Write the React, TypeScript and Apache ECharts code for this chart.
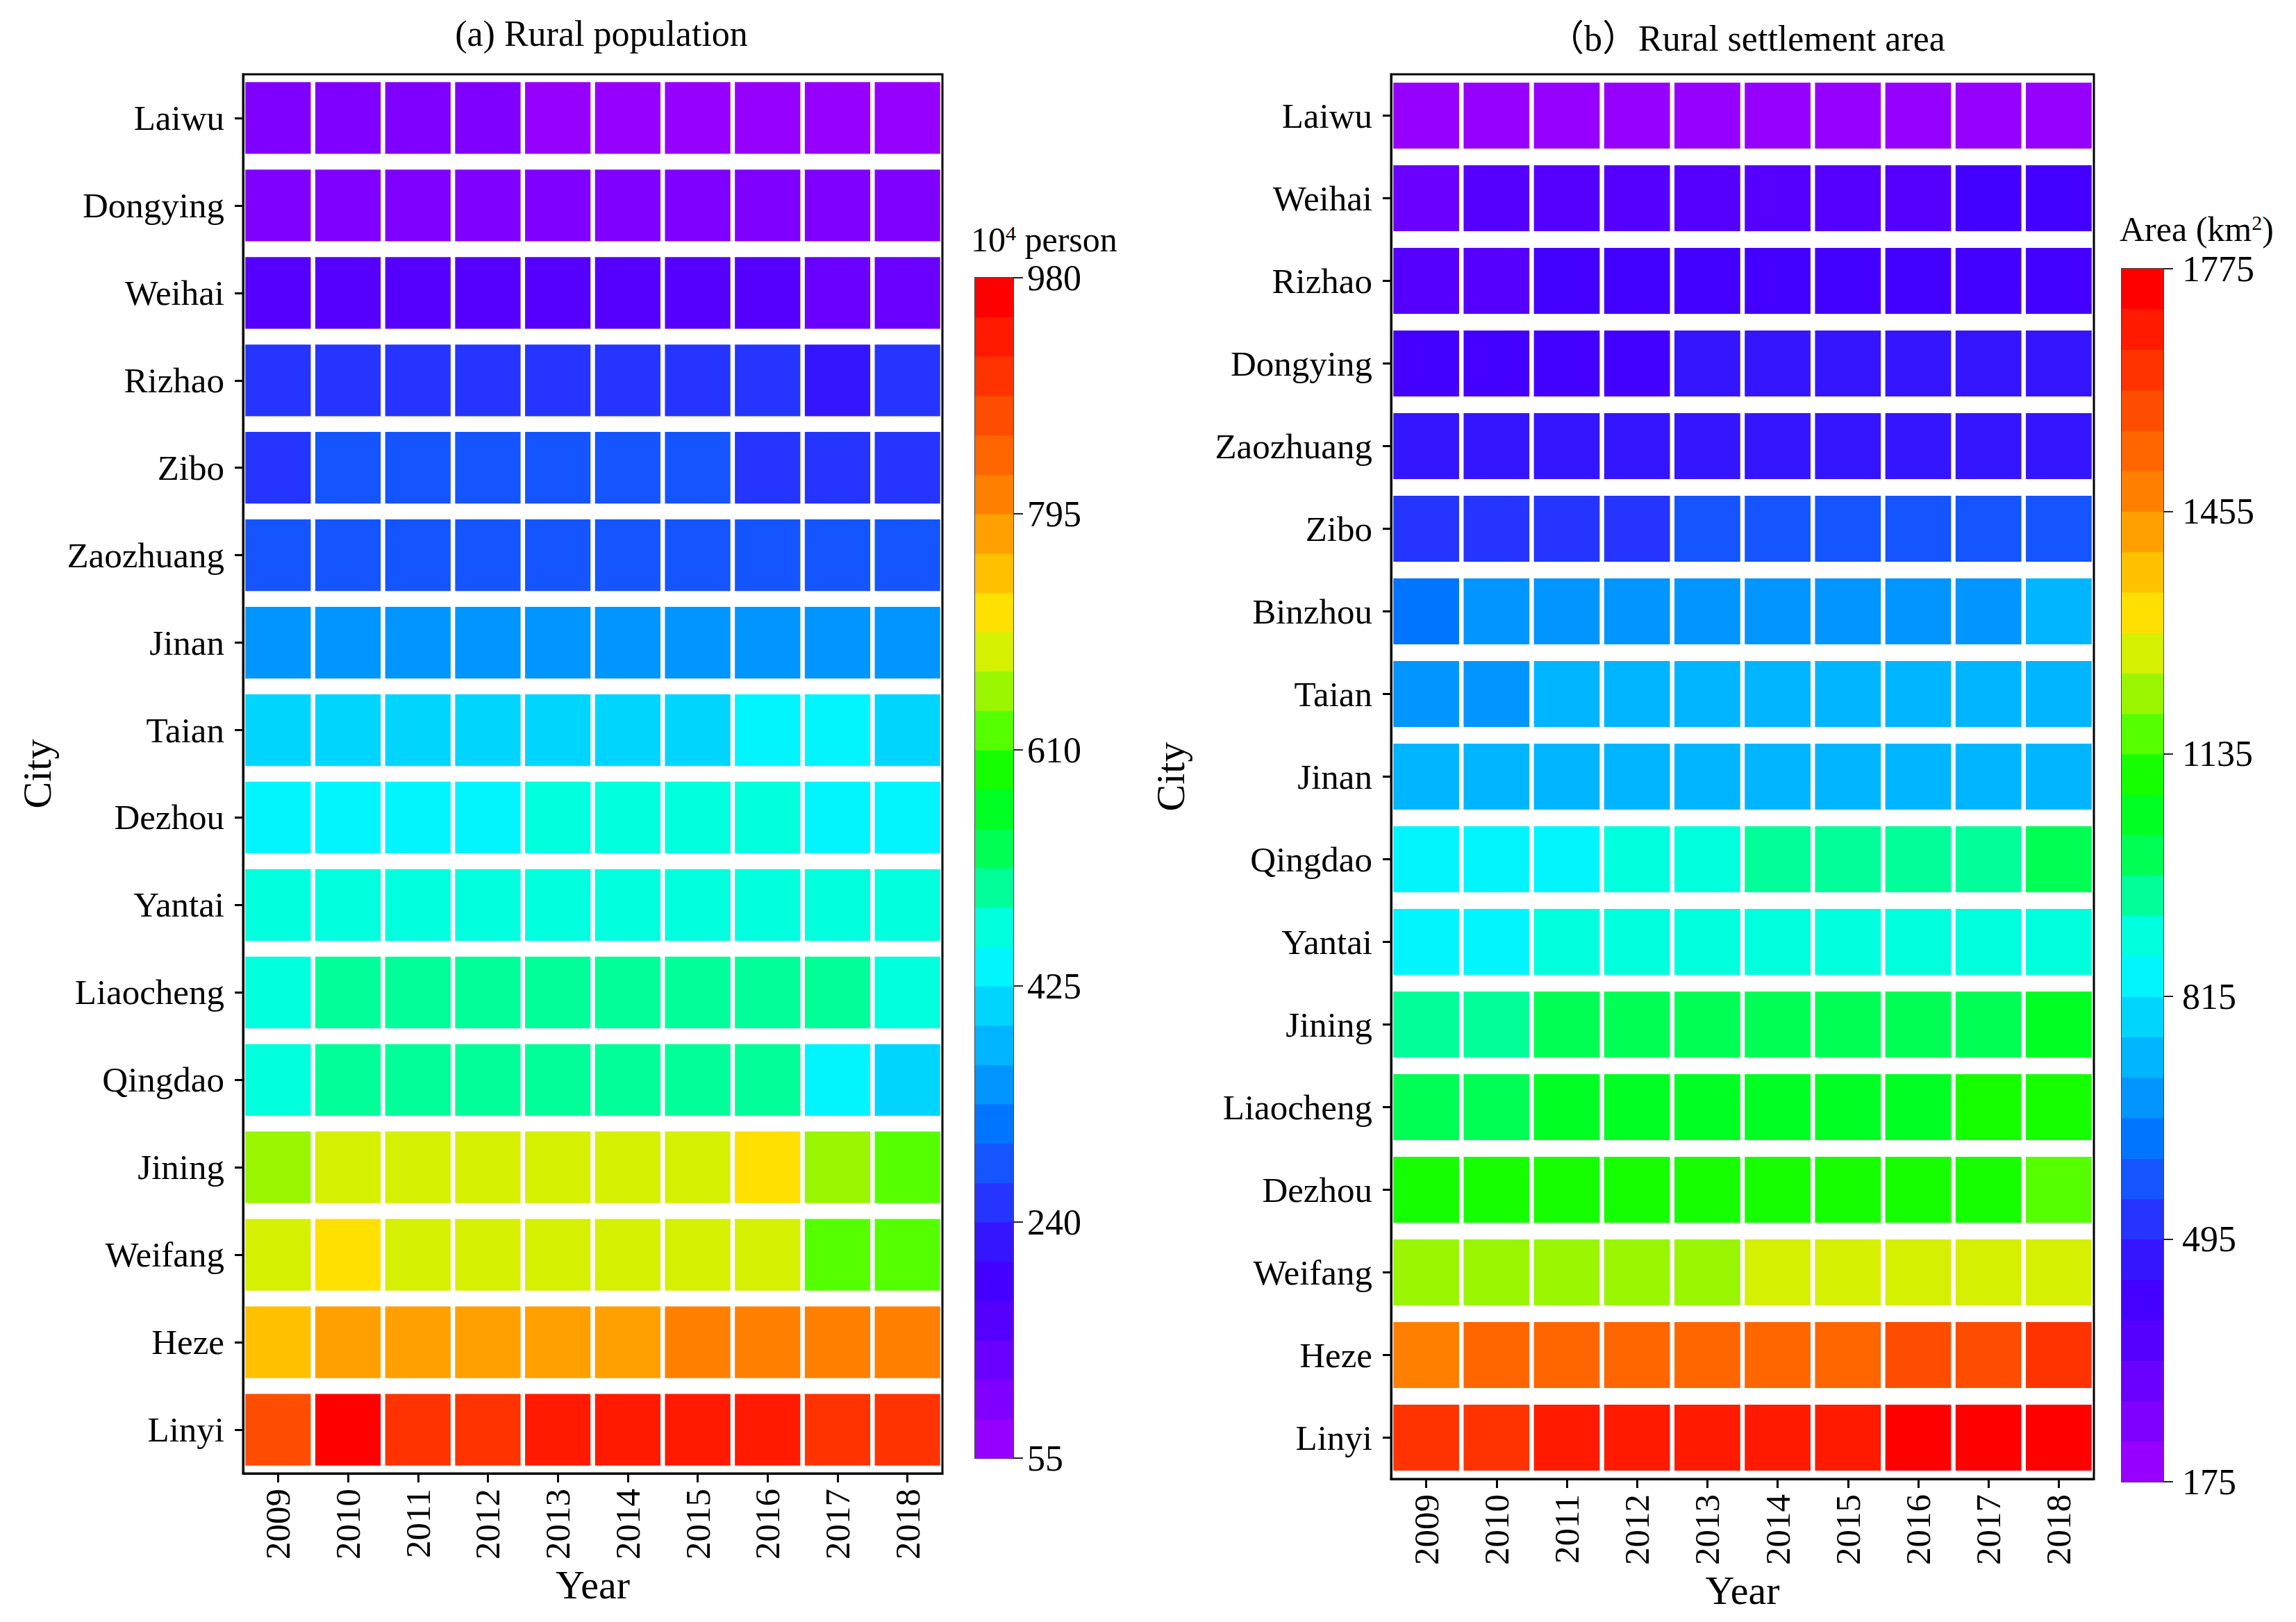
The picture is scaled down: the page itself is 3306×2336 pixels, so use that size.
import React, { useEffect, useRef } from 'react';
import * as echarts from 'echarts';

const YEARS = ['2009', '2010', '2011', '2012', '2013', '2014', '2015', '2016', '2017', '2018'];

const POP_CITIES = ['Laiwu', 'Dongying', 'Weihai', 'Rizhao', 'Zibo', 'Zaozhuang', 'Jinan', 'Taian', 'Dezhou', 'Yantai', 'Liaocheng', 'Qingdao', 'Jining', 'Weifang', 'Heze', 'Linyi'];
const POP_VALUES = [
  [93, 90, 88, 87, 84, 82, 80, 78, 76, 74],
  [108, 107, 106, 105, 104, 103, 102, 101, 99, 98],
  [172, 170, 168, 166, 164, 161, 158, 155, 146, 143],
  [262, 260, 259, 258, 256, 254, 252, 250, 238, 245],
  [268, 290, 289, 288, 287, 285, 283, 266, 262, 260],
  [298, 297, 296, 295, 294, 293, 292, 290, 288, 286],
  [355, 354, 353, 352, 351, 350, 349, 348, 347, 346],
  [415, 416, 417, 418, 419, 420, 421, 430, 428, 423],
  [448, 450, 452, 454, 460, 462, 464, 466, 452, 450],
  [470, 471, 472, 473, 474, 475, 476, 477, 478, 479],
  [480, 500, 502, 504, 505, 506, 507, 508, 505, 482],
  [484, 492, 494, 496, 497, 498, 499, 500, 445, 420],
  [660, 680, 684, 688, 690, 692, 695, 712, 665, 635],
  [690, 710, 694, 692, 690, 688, 686, 684, 632, 628],
  [760, 775, 780, 782, 785, 788, 800, 805, 810, 812],
  [870, 965, 905, 910, 925, 930, 935, 940, 915, 912],
];

const AREA_CITIES = ['Laiwu', 'Weihai', 'Rizhao', 'Dongying', 'Zaozhuang', 'Zibo', 'Binzhou', 'Taian', 'Jinan', 'Qingdao', 'Yantai', 'Jining', 'Liaocheng', 'Dezhou', 'Weifang', 'Heze', 'Linyi'];
const AREA_VALUES = [
  [205, 206, 207, 208, 209, 210, 211, 212, 213, 214],
  [330, 345, 350, 355, 358, 360, 362, 365, 395, 400],
  [370, 382, 392, 396, 400, 404, 408, 412, 416, 420],
  [425, 430, 434, 438, 450, 455, 460, 465, 470, 474],
  [460, 462, 464, 466, 468, 470, 472, 474, 476, 478],
  [525, 530, 535, 540, 560, 565, 570, 575, 580, 585],
  [640, 670, 675, 680, 685, 690, 695, 700, 705, 720],
  [690, 700, 715, 720, 725, 730, 735, 738, 740, 745],
  [730, 732, 734, 736, 738, 740, 742, 744, 746, 748],
  [840, 850, 860, 890, 900, 940, 950, 960, 970, 1000],
  [850, 860, 880, 885, 890, 895, 900, 905, 910, 915],
  [950, 965, 990, 995, 1000, 1005, 1010, 1015, 1020, 1040],
  [1010, 1020, 1040, 1045, 1050, 1055, 1060, 1065, 1090, 1100],
  [1090, 1095, 1100, 1105, 1110, 1112, 1115, 1118, 1120, 1150],
  [1200, 1210, 1215, 1220, 1230, 1250, 1260, 1265, 1270, 1280],
  [1480, 1520, 1525, 1530, 1535, 1540, 1545, 1570, 1580, 1630],
  [1630, 1650, 1680, 1690, 1695, 1700, 1710, 1730, 1740, 1750],
];

const POP_RANGE = [55, 980];
const AREA_RANGE = [175, 1775];
const POP_TICKS = [55, 240, 425, 610, 795, 980];
const AREA_TICKS = [175, 495, 815, 1135, 1455, 1775];

const PALETTE = [
  '#9600FF', '#8000FF', '#6A00FF', '#5500FF', '#4400FF', '#3515FF', '#2535FF', '#1555FF',
  '#0075FF', '#0095FF', '#00B5FF', '#00D5FF', '#00F5FF', '#00FFDD', '#00FF99', '#00FF55',
  '#00FF22', '#16FF00', '#55FF00', '#99F500', '#D5F000', '#FFE000', '#FFC000', '#FFA000',
  '#FF8000', '#FF6600', '#FF4D00', '#FF3300', '#FF1A00', '#FF0000',
];

const FONT = "'Liberation Serif', 'Times New Roman', 'Noto Sans CJK SC', serif";

function toCells(values: number[][]) {
  const out: number[][] = [];
  values.forEach((row, r) => row.forEach((v, c) => out.push([c, r, v])));
  return out;
}

function toBands(range: number[]) {
  const step = (range[1] - range[0]) / PALETTE.length;
  return PALETTE.map((_, i) => [0, range[0] + step * i, range[0] + step * (i + 1)]);
}

function cellRenderer(hFrac: number) {
  return (params: any, api: any) => {
    const c = api.coord([api.value(0), api.value(1)]);
    const s = api.size([1, 1]);
    const w = s[0] - 6.5;
    const h = s[1] * hFrac;
    return {
      type: 'rect',
      shape: { x: c[0] - w / 2, y: c[1] - h / 2, width: w, height: h },
      style: { fill: api.visual('color') },
    };
  };
}

function barRenderer(params: any, api: any) {
  const p0 = api.coord([0, api.value(1)]);
  const p1 = api.coord([0, api.value(2)]);
  const w = api.size([1, 0])[0];
  return {
    type: 'rect',
    shape: { x: p0[0] - w / 2, y: p1[1], width: w, height: p0[1] - p1[1] + 0.6 },
    style: { fill: PALETTE[params.dataIndex] },
  };
}

const black = '#000';

function catX(gridIndex: number, nameGap: number) {
  return {
    type: 'category', gridIndex, data: YEARS, position: 'bottom',
    axisLine: { show: true, lineStyle: { color: black, width: 3 } },
    axisTick: { show: true, alignWithLabel: true, length: 13, lineStyle: { color: black, width: 3 } },
    axisLabel: { rotate: 90, fontFamily: FONT, fontSize: 51, color: black, margin: 22 },
    splitLine: { show: false },
    name: 'Year', nameLocation: 'middle', nameGap,
    nameTextStyle: { fontFamily: FONT, fontSize: 58, color: black },
  };
}

function catY(gridIndex: number, cities: string[], nameGap: number) {
  return {
    type: 'category', gridIndex, data: cities, inverse: true,
    axisLine: { show: true, lineStyle: { color: black, width: 3 } },
    axisTick: { show: true, alignWithLabel: true, length: 12, lineStyle: { color: black, width: 3 } },
    axisLabel: { fontFamily: FONT, fontSize: 51, color: black, margin: 27 },
    splitLine: { show: false },
    name: 'City', nameLocation: 'middle', nameGap,
    nameTextStyle: { fontFamily: FONT, fontSize: 58, color: black },
  };
}

function barY(gridIndex: number, range: number[], ticks: number[], margin: number) {
  return {
    type: 'value', gridIndex, min: range[0], max: range[1], position: 'right',
    axisLine: { show: false },
    splitLine: { show: false },
    axisTick: { show: true, length: 14, customValues: ticks, lineStyle: { color: '#222', width: 2 } },
    axisLabel: { customValues: ticks, formatter: (v: number) => String(v), fontFamily: FONT, fontSize: 52, color: black, margin },
  };
}

export default function App() {
  const ref = useRef<HTMLDivElement>(null);
  useEffect(() => {
    document.body.style.margin = '0';
    const chart = echarts.init(ref.current!, null, { renderer: 'svg' });
    const option: any = {
      animation: false,
      backgroundColor: '#fff',
      grid: [
        { left: 350, top: 107, width: 1007, height: 2015, show: true, borderColor: black, borderWidth: 3, backgroundColor: 'transparent', outerBoundsMode: 'none' },
        { left: 1404, top: 400, width: 55, height: 1700, show: true, borderColor: '#444', borderWidth: 2, backgroundColor: 'transparent', outerBoundsMode: 'none' },
        { left: 2003, top: 107, width: 1012, height: 2023, show: true, borderColor: black, borderWidth: 3, backgroundColor: 'transparent', outerBoundsMode: 'none' },
        { left: 3055, top: 387, width: 60, height: 1747, show: true, borderColor: '#444', borderWidth: 2, backgroundColor: 'transparent', outerBoundsMode: 'none' },
      ],
      xAxis: [
        catX(0, 126),
        { type: 'category', gridIndex: 1, data: [''], show: false },
        catX(2, 130),
        { type: 'category', gridIndex: 3, data: [''], show: false },
      ],
      yAxis: [
        catY(0, POP_CITIES, 268),
        barY(1, POP_RANGE, POP_TICKS, 20),
        catY(2, AREA_CITIES, 289),
        barY(3, AREA_RANGE, AREA_TICKS, 27),
      ],
      visualMap: [
        { type: 'piecewise', show: false, seriesIndex: 0, dimension: 2, min: POP_RANGE[0], max: POP_RANGE[1], splitNumber: PALETTE.length, inRange: { color: PALETTE } },
        { type: 'piecewise', show: false, seriesIndex: 2, dimension: 2, min: AREA_RANGE[0], max: AREA_RANGE[1], splitNumber: PALETTE.length, inRange: { color: PALETTE } },
      ],
      series: [
        { type: 'custom', xAxisIndex: 0, yAxisIndex: 0, data: toCells(POP_VALUES), encode: { x: 0, y: 1 }, renderItem: cellRenderer(0.82) },
        { type: 'custom', xAxisIndex: 1, yAxisIndex: 1, data: toBands(POP_RANGE), encode: { x: 0, y: [1, 2] }, renderItem: barRenderer, z: 1 },
        { type: 'custom', xAxisIndex: 2, yAxisIndex: 2, data: toCells(AREA_VALUES), encode: { x: 0, y: 1 }, renderItem: cellRenderer(0.8) },
        { type: 'custom', xAxisIndex: 3, yAxisIndex: 3, data: toBands(AREA_RANGE), encode: { x: 0, y: [1, 2] }, renderItem: barRenderer, z: 1 },
      ],
      graphic: [
        { type: 'text', x: 866, y: 48, style: { text: '(a) Rural population', fontFamily: FONT, fontSize: 52, fill: black, align: 'center', verticalAlign: 'middle' } },
        { type: 'text', x: 2515, y: 55, style: { text: '（b）Rural settlement area', fontFamily: FONT, fontSize: 52, fill: black, align: 'center', verticalAlign: 'middle' } },
        {
          type: 'text', x: 1398, y: 345,
          style: {
            text: '{n|10}{s|4}{n| person}', fontFamily: FONT, fill: black, align: 'left', verticalAlign: 'middle',
            rich: { n: { fontFamily: FONT, fontSize: 50, fill: black }, s: { fontFamily: FONT, fontSize: 30, fill: black, verticalAlign: 'top' } },
          },
        },
        {
          type: 'text', x: 3052, y: 330,
          style: {
            text: '{n|Area (km}{s|2}{n|)}', fontFamily: FONT, fill: black, align: 'left', verticalAlign: 'middle',
            rich: { n: { fontFamily: FONT, fontSize: 50, fill: black }, s: { fontFamily: FONT, fontSize: 30, fill: black, verticalAlign: 'top' } },
          },
        },
      ],
    };
    chart.setOption(option);
    return () => chart.dispose();
  }, []);
  return <div ref={ref} style={{ width: 3306, height: 2336, position: 'absolute', left: 0, top: 0, background: '#fff' }} />;
}
